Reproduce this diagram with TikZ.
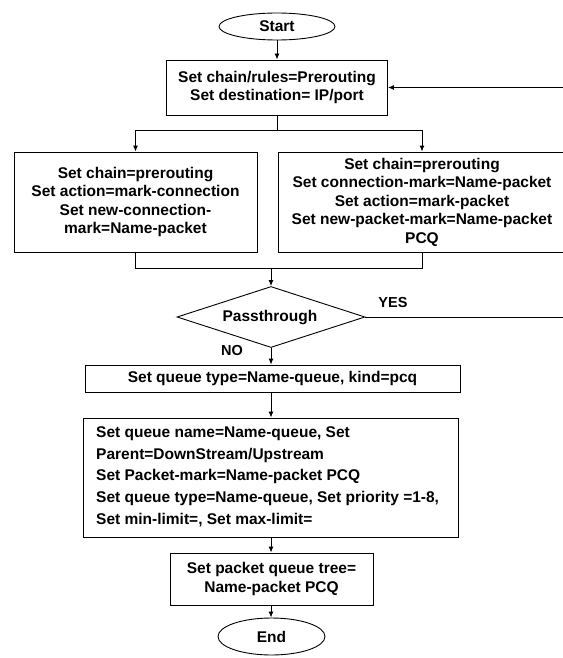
\documentclass[tikz,border=0pt]{standalone}
\usepackage{fontspec}
\setmainfont{Liberation Sans}
\usetikzlibrary{shapes.geometric,arrows.meta}
\begin{document}
\begin{tikzpicture}[x=1pt,y=-1pt,
  every node/.style={font=\fontsize{15.5}{18.5}\selectfont\bfseries, inner sep=0pt},
  box/.style={draw, line width=0.9pt, rectangle, align=center},
  term/.style={draw, line width=0.9pt, ellipse},
  decision/.style={draw, line width=0.9pt, diamond},
  conn/.style={line width=0.9pt},
  arr/.style={line width=0.9pt, -{Latex[length=6pt,width=5pt]}},
  lbl/.style={font=\fontsize{14.5}{16}\selectfont\bfseries}
]
\useasboundingbox (0,0) rectangle (562,658);

\node[term, minimum width=116pt, minimum height=27pt] (start) at (277,26.5) {Start};
\node[box, minimum width=221pt, minimum height=55pt] (b1) at (277,87.5)
  {Set chain/rules=Prerouting\\Set destination= IP/port};
\node[box, minimum width=243pt, minimum height=100pt] (bl) at (135.5,202)
  {Set chain=prerouting\\Set action=mark-connection\\Set new-connection-\\mark=Name-packet};
\node[box, minimum width=288pt, minimum height=100pt] (br) at (422,202)
  {Set chain=prerouting\\Set connection-mark=Name-packet\\Set action=mark-packet\\Set new-packet-mark=Name-packet\\PCQ};
\node[decision, minimum width=188pt, minimum height=61pt] (dec) at (271,317) {};
\node (dtext) at (270,318) {Passthrough};
\node[box, minimum width=375pt, minimum height=27pt] (b3) at (272.5,378.5)
  {Set queue type=Name-queue, kind=pcq};
\node[box, minimum width=375pt, minimum height=119pt] (b4) at (270.5,477.5) {};
\node[anchor=west, align=left, font=\fontsize{15.5}{21.7}\selectfont\bfseries] (b4text) at (96,476.5)
  {Set queue name=Name-queue, Set\\Parent=DownStream/Upstream\\Set Packet-mark=Name-packet PCQ\\Set queue type=Name-queue, Set priority =1-8,\\Set min-limit=, Set max-limit=};
\node[box, minimum width=203pt, minimum height=52pt] (b5) at (271.5,579)
  {Set packet queue tree=\\Name-packet PCQ};
\node[term, minimum width=107pt, minimum height=37pt] (end) at (271.5,636.5) {End};

\node[lbl] (yes) at (393,303) {YES};
\node[lbl] (no) at (232,351) {NO};

\coordinate (j1) at (277,130);
\coordinate (j2) at (271,268);
\coordinate (loopA) at (575,317);
\coordinate (loopB) at (575,87.5);

\draw[arr] (start) -- (b1);
\draw[conn] (b1.south) -- (j1);
\draw[arr] (j1) -| (bl.north);
\draw[arr] (j1) -| (br.north);
\draw[conn] (bl.south) |- (j2);
\draw[conn] (br.south) |- (j2);
\draw[arr] (j2) -- (dec.north);
\draw[conn] (dec.east) -- (loopA) -- (loopB);
\draw[arr] (loopB) -- (b1.east);
\draw[arr] (dec.south) -- (b3.north -| dec.south);
\draw[arr] (b3.south -| dec.south) -- (b4.north -| dec.south);
\draw[arr] (b4.south -| dec.south) -- (b5.north -| dec.south);
\draw[arr] (b5.south -| dec.south) -- (end.north -| dec.south);
\end{tikzpicture}
\end{document}
